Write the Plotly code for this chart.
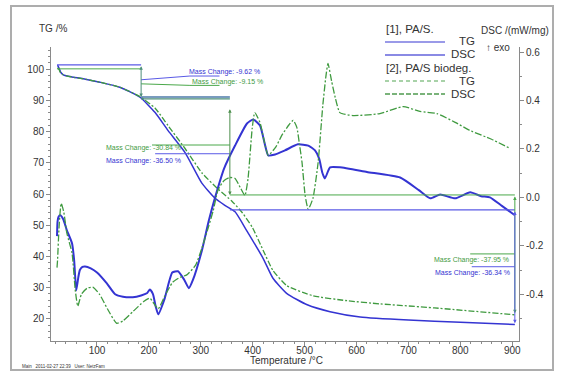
import plotly.graph_objects as go

# ---------------- data ----------------
# Sample 1: PA/S  (blue)
tg1_T = [24, 27, 30, 35, 45, 55, 80, 106, 144, 183, 212, 237, 270, 302, 327, 345, 366, 389, 420,
         439, 466, 505, 549, 607, 700, 800, 905]
tg1 = [101.3, 100.3, 99.0, 98.2, 97.7, 97.4, 96.7, 95.8, 94.2, 91.0, 86.1, 80.3, 73.2, 63.5, 58.7,
       56.5, 54.3, 48.1, 39.4, 33.0, 28.1, 24.5, 22.3, 20.6, 19.6, 18.9, 18.2]

dsc1_T = [23, 24, 26, 29, 35, 42, 52, 56, 60, 64, 67, 72, 77, 88, 100, 119, 135, 150, 169, 185, 196,
          202, 208, 213, 218, 230, 245, 256, 268, 277, 285, 302, 315, 327, 345, 366, 389, 401, 414,
          424, 430, 443, 462, 487, 507, 520, 528, 534, 539, 549, 568, 620, 684, 720, 742, 761, 790,
          819, 840, 857, 880, 905]
dsc1 = [-0.16, -0.10, -0.08, -0.074, -0.09, -0.136, -0.19, -0.26, -0.384, -0.33, -0.30, -0.287,
        -0.285, -0.293, -0.31, -0.355, -0.40, -0.41, -0.412, -0.405, -0.396, -0.38, -0.40, -0.45,
        -0.483, -0.42, -0.31, -0.305, -0.34, -0.375, -0.34, -0.22, -0.10, -0.004, 0.12, 0.214,
        0.305, 0.322, 0.297, 0.214, 0.173, 0.177, 0.194, 0.219, 0.214, 0.194, 0.16, 0.103, 0.078,
        0.124, 0.124, 0.105, 0.082, 0.03, -0.004, 0.012, -0.004, 0.021, 0.005, 0.0, -0.035, -0.074]

# Sample 2: PA/S biodeg. (green)
tg2_T = [24, 27, 30, 35, 45, 55, 80, 106, 144, 183, 212, 237, 270, 302, 333, 360, 380, 399, 420,
         439, 466, 516, 582, 645, 750, 905]
tg2 = [100.5, 99.8, 98.8, 98.2, 97.7, 97.4, 96.7, 95.8, 94.2, 91.2, 87.5, 81.9, 74.5, 66.8, 61.6,
       57.7, 54.0, 49.4, 42.0, 35.5, 30.6, 27.4, 25.8, 24.8, 23.5, 21.3]

dsc2_T = [23, 24, 27, 31, 36, 42, 52, 58, 63, 70, 81, 92, 105, 120, 138, 150, 170, 190, 202, 208,
          218, 230, 246, 260, 273, 290, 302, 315, 324, 333, 345, 356, 366, 376, 385, 391, 399, 404,
          414, 424, 430, 445, 456, 470, 478, 485, 490, 495, 501, 507, 516, 526, 535, 541, 545, 552,
          559, 568, 593, 645, 690, 722, 755, 790, 819, 860, 896]
dsc2 = [-0.29, -0.26, -0.12, -0.025, -0.06, -0.148, -0.231, -0.38, -0.449, -0.40, -0.375, -0.371,
        -0.40, -0.46, -0.52, -0.51, -0.47, -0.43, -0.416, -0.433, -0.46, -0.41, -0.35, -0.33, -0.32,
        -0.28, -0.21, -0.12, -0.054, 0.03, 0.07, 0.082, 0.078, 0.041, 0.008, 0.078, 0.285, 0.35,
        0.309, 0.214, 0.173, 0.21, 0.256, 0.30, 0.318, 0.289, 0.22, 0.144, 0.008, -0.049, -0.004,
        0.144, 0.379, 0.50, 0.553, 0.48, 0.412, 0.35, 0.338, 0.346, 0.375, 0.355, 0.346, 0.31,
        0.276, 0.24, 0.202]

# mass-change step evaluation
step_T = [23, 185, 356, 905]
step_lv1 = [101.4, 91.1, 54.9, 18.6]   # blue levels
step_lv2 = [100.1, 90.5, 59.7, 21.8]   # green levels
mc1_text = ["Mass Change: -9.62 %", "Mass Change: -36.50 %", "Mass Change: -36.34 %"]
mc2_text = ["Mass Change: -9.15 %", "Mass Change: -30.84 %", "Mass Change: -37.95 %"]

tg_ticks = [20, 30, 40, 50, 60, 70, 80, 90, 100]
dsc_ticks = [-0.4, -0.2, 0.0, 0.2, 0.4, 0.6]
dsc_ticklabels = ["-0.4", "-0.2", "0.0", "0.2", "0.4", "0.6"]
t_ticks = [100, 200, 300, 400, 500, 600, 700, 800, 900]

# ---------------- styling ----------------
BLUE = "#3434d2"
GREEN = "#3f9a3f"
BLUE_M = "#5a5ae6"
GREEN_M = "#4aa84a"
TXT = "#333333"
FONT = "Liberation Sans, Arial, sans-serif"

L, R, TOP, BOT = 51, 519, 47, 341
def px(x):
    return (x - L) / (R - L)
def py(y):
    return (BOT - y) / (BOT - TOP)

fig = go.Figure()
fig.add_trace(go.Scatter(x=tg1_T, y=tg1, mode="lines", line=dict(color=BLUE, width=1.5, shape="spline", smoothing=0.5),
                         yaxis="y", showlegend=False, hoverinfo="skip"))
fig.add_trace(go.Scatter(x=dsc1_T, y=dsc1, mode="lines", line=dict(color=BLUE, width=2, shape="spline", smoothing=0.5),
                         yaxis="y2", showlegend=False, hoverinfo="skip"))
fig.add_trace(go.Scatter(x=tg2_T, y=tg2, mode="lines",
                         line=dict(color=GREEN, width=1.3, dash="6px,2px,2px,2px", shape="spline", smoothing=0.5),
                         yaxis="y", showlegend=False, hoverinfo="skip"))
fig.add_trace(go.Scatter(x=dsc2_T, y=dsc2, mode="lines",
                         line=dict(color=GREEN, width=1.3, dash="7px,2px,2px,2px", shape="spline", smoothing=0.5),
                         yaxis="y2", showlegend=False, hoverinfo="skip"))

shapes = []
def seg(x0, y0, x1, y1, color, width=1):
    shapes.append(dict(type="line", xref="x", yref="y", x0=x0, y0=y0, x1=x1, y1=y1,
                       line=dict(color=color, width=width)))

# step 1
seg(step_T[0], step_lv1[0], step_T[1], step_lv1[0], BLUE_M, 1.3)
seg(step_T[0], step_lv2[0], step_T[1], step_lv2[0], GREEN_M, 1)
seg(step_T[1], step_lv1[1], step_T[2], step_lv1[1], "#4d7aa8", 1.6)
seg(step_T[1], step_lv2[1], step_T[2], step_lv2[1], "#4d8f7a", 1.3)
seg(step_T[1], 96.6, 279, 97.8, BLUE_M, 1)
seg(279, 97.8, step_T[2] - 20, 97.8, BLUE_M, 1)
seg(step_T[1], 95.3, 279, 94.8, GREEN_M, 1)
seg(279, 94.8, step_T[2] - 20, 94.8, GREEN_M, 1)
# step 2
seg(step_T[2], step_lv2[2], step_T[3], step_lv2[2], GREEN_M, 1)
seg(step_T[2], step_lv1[2], step_T[3], step_lv1[2], BLUE_M, 1.3)
seg(206, 75.7, step_T[2], 75.7, GREEN_M, 1)
seg(212, 72.9, step_T[2], 72.9, BLUE_M, 1)
# step 3
seg(819, 40.8, step_T[3], 40.8, GREEN_M, 1)
seg(822, 36.7, step_T[3], 36.7, BLUE_M, 1)

# legend lines (paper)
def pseg(x0, x1, y, color, width, dash="solid"):
    shapes.append(dict(type="line", xref="paper", yref="paper", x0=px(x0), x1=px(x1), y0=py(y), y1=py(y),
                       line=dict(color=color, width=width, dash=dash)))
pseg(385, 445, 42, "#9a9ae8", 2)
pseg(385, 445, 55, "#8a8ae4", 2)
pseg(385, 445, 81, "#8cc48c", 1.5, "4px,3px")
pseg(385, 445, 94, "#4f9a4f", 1.5, "5px,2px")

# outer frame
shapes.append(dict(type="rect", xref="paper", yref="paper", x0=px(11), x1=px(553), y0=py(370), y1=py(6),
                   line=dict(color="#adadad", width=2), fillcolor="rgba(0,0,0,0)", layer="above"))

ann = []
def arrow(x, y0, y1, color):
    ann.append(dict(x=x, y=y1, ax=x, ay=y0, xref="x", yref="y", axref="x", ayref="y", text="",
                    showarrow=True, arrowhead=2, arrowside="end+start", arrowsize=0.7, arrowwidth=1,
                    arrowcolor=color))
arrow(step_T[1], step_lv1[0], step_lv1[1], "#4d8f7a")
arrow(step_T[2], 87.6, step_lv2[2], "#4d8f4d")
arrow(step_T[3], step_lv2[2], step_lv2[3], GREEN_M)
arrow(step_T[3], step_lv1[2], step_lv1[3], BLUE_M)

def dtext(x, y, t, color, size=7):
    ann.append(dict(x=x, y=y, xref="x", yref="y", text=t, showarrow=False,
                    font=dict(family=FONT, size=size, color=color), xanchor="center", yanchor="middle"))
dtext(345, 99.1, mc1_text[0], BLUE)
dtext(352, 95.8, mc2_text[0], GREEN)
dtext(190, 74.7, mc2_text[1], GREEN)
dtext(190, 70.6, mc1_text[1], BLUE)
dtext(821, 38.9, mc2_text[2], GREEN)
dtext(823, 34.8, mc1_text[2], BLUE)

def ptext(x, y, t, size, anchor="left", color=TXT):
    ann.append(dict(x=px(x), y=py(y), xref="paper", yref="paper", text=t, showarrow=False,
                    font=dict(family=FONT, size=size, color=color), xanchor=anchor, yanchor="middle"))
ptext(37, 29, "TG /%", 10)
ptext(551, 30, "DSC /(mW/mg)", 10, "right")
ptext(484, 47, "↑ exo", 10)
ptext(384, 29, "[1], PA/S.", 11.5)
ptext(477, 41, "TG", 11.5, "right")
ptext(477, 54, "DSC", 11.5, "right")
ptext(384, 68, "[2], PA/S biodeg.", 11.5)
ptext(477, 81, "TG", 11.5, "right")
ptext(477, 94, "DSC", 11.5, "right")
ptext(286, 360, "Temperature /°C", 10, "center")
ptext(20, 366, "Main&nbsp;&nbsp;&nbsp;2011-02-27 22:39&nbsp;&nbsp;&nbsp;User: NetzFam", 4.5)

axis_common = dict(showgrid=False, zeroline=False, showline=True, linecolor="#8a8a8a", linewidth=1,
                   ticks="outside", ticklen=4, tickcolor="#8a8a8a", automargin=False,
                   tickfont=dict(family=FONT, size=10, color=TXT))

fig.update_layout(
    template="none",
    width=562, height=375,
    margin=dict(l=L, r=562 - R, t=TOP, b=375 - BOT, autoexpand=False),
    paper_bgcolor="white", plot_bgcolor="white",
    showlegend=False,
    xaxis=dict(range=[11.4, 913], tickvals=t_ticks, ticklabelstandoff=-4,
               minor=dict(dtick=20, tick0=0, ticklen=2, ticks="outside", tickcolor="#8a8a8a"),
               **axis_common),
    yaxis=dict(range=[12.9, 107.1], tickvals=tg_ticks,
               minor=dict(dtick=2, tick0=0, ticklen=2, ticks="outside", tickcolor="#8a8a8a"),
               **axis_common),
    yaxis2=dict(range=[-0.593, 0.621], overlaying="y", side="right", anchor="x",
                tickvals=dsc_ticks, ticktext=dsc_ticklabels,
                minor=dict(dtick=0.1, tick0=0, ticklen=2, ticks="outside", tickcolor="#8a8a8a"),
                **axis_common),
    shapes=shapes,
    annotations=ann,
)

fig.write_html("out.html", config={"displayModeBar": False, "staticPlot": True},
               post_script="document.body.style.margin='0';document.body.style.overflow='hidden';")
